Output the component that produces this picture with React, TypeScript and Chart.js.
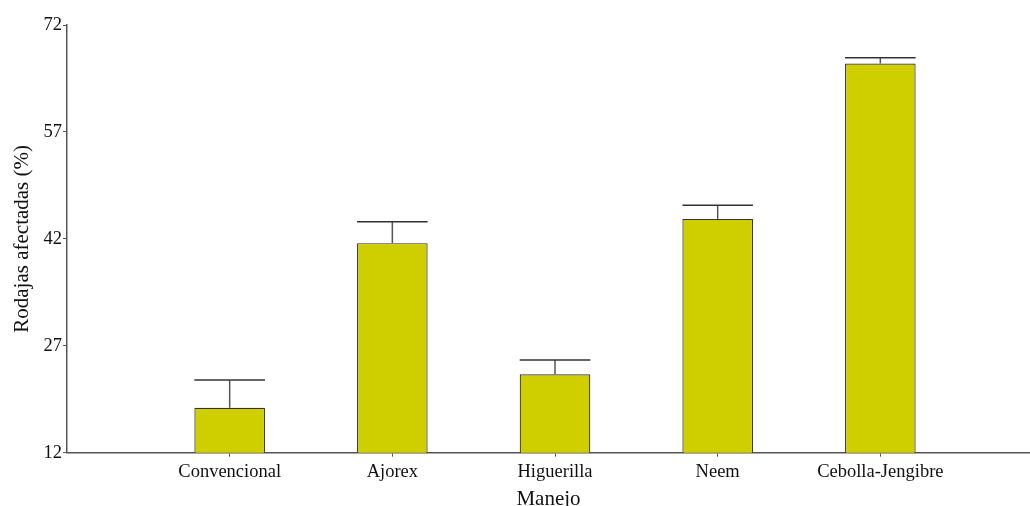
import React, { useEffect, useRef } from "react";
import { Chart, registerables } from "chart.js";

Chart.register(...registerables);

const categories = ["Convencional", "Ajorex", "Higuerilla", "Neem", "Cebolla-Jengibre"];
const values = [18.3, 41.4, 23.0, 44.8, 66.6];
const errors = [3.9, 3.0, 2.0, 1.9, 0.8];
const yTicks = [12, 27, 42, 57, 72];

const FONT = "'Liberation Serif', 'Times New Roman', serif";

const errorBarPlugin = {
  id: "errorBars",
  afterDatasetsDraw(chart: any) {
    const ctx = chart.ctx;
    const yScale = chart.scales.y;
    const meta = chart.getDatasetMeta(0);
    ctx.save();
    meta.data.forEach((bar: any, i: number) => {
      const x = bar.x;
      const yBar = yScale.getPixelForValue(values[i]);
      const yTop = yScale.getPixelForValue(values[i] + errors[i]);
      const half = bar.width / 2;
      ctx.strokeStyle = "#555";
      ctx.lineWidth = 1.5;
      ctx.beginPath();
      ctx.moveTo(x, yBar);
      ctx.lineTo(x, yTop);
      ctx.stroke();
      ctx.strokeStyle = "#333";
      ctx.beginPath();
      ctx.moveTo(x - half, yTop);
      ctx.lineTo(x + half, yTop);
      ctx.stroke();
    });
    ctx.restore();
  },
};

export default function App() {
  const ref = useRef<HTMLCanvasElement | null>(null);
  useEffect(() => {
    if (!ref.current) return;
    const chart = new Chart(ref.current, {
      type: "bar",
      data: {
        datasets: [
          {
            data: values.map((v, i) => ({ x: i + 1, y: v })),
            backgroundColor: "#cfcf00",
            borderColor: "#333",
            borderWidth: 1.2,
            categoryPercentage: 1,
            barPercentage: 0.434,
          },
        ],
      },
      options: {
        animation: false,
        responsive: false,
        layout: { padding: { top: 25, right: 0, left: 0, bottom: 0 } },
        plugins: { legend: { display: false }, tooltip: { enabled: false } },
        scales: {
          x: {
            type: "linear",
            min: 0,
            max: 5.92,
            offset: false,
            afterBuildTicks: (scale: any) => {
              scale.ticks = categories.map((_, i) => ({ value: i + 1 }));
            },
            afterFit: (scale: any) => {
              scale.height = 53.3;
            },
            ticks: {
              autoSkip: false,
              maxRotation: 0,
              color: "#111",
              padding: 4,
              font: { family: FONT, size: 18.5 },
              callback: (v: any) => categories[Math.round(Number(v)) - 1] ?? "",
            },
            grid: { offset: false, drawOnChartArea: false, drawTicks: true, tickLength: 4, color: "#555" },
            border: { display: true, color: "#555", width: 1.5 },
            title: {
              display: true,
              text: "Manejo",
              color: "#111",
              font: { family: FONT, size: 21 },
              padding: { top: 1, bottom: -6 },
            },
          },
          y: {
            min: 12,
            max: 72,
            afterBuildTicks: (scale: any) => {
              scale.ticks = yTicks.map((v) => ({ value: v }));
            },
            afterFit: (scale: any) => {
              scale.width = 67;
            },
            ticks: {
              color: "#111",
              padding: 1,
              font: { family: FONT, size: 18.5 },
            },
            grid: { drawOnChartArea: false, drawTicks: true, tickLength: 4, color: "#555" },
            border: { display: true, color: "#555", width: 1.5 },
            title: {
              display: true,
              text: "Rodajas afectadas (%)",
              color: "#111",
              font: { family: FONT, size: 21 },
              padding: { top: 10, bottom: 0 },
            },
          },
        },
      },
      plugins: [errorBarPlugin],
    });
    return () => chart.destroy();
  }, []);
  return (
    <div style={{ position: "absolute", left: 0, top: 0, width: 1030, height: 506 }}>
      <canvas ref={ref} width={1030} height={506} />
    </div>
  );
}
